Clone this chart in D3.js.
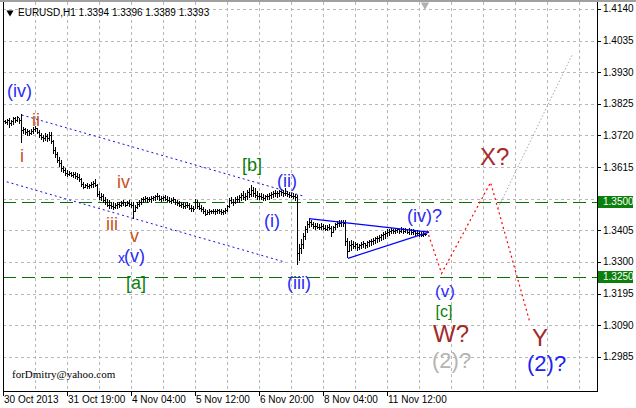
<!DOCTYPE html>
<html><head><meta charset="utf-8">
<script src="https://cdn.jsdelivr.net/npm/d3@7"></script>
<style>body{margin:0;background:#fff;} svg{display:block;}</style>
</head><body><svg id="c" width="636" height="408"></svg>
<script>
// ---------- DATA ----------
const symbolTitle = "EURUSD,H1";
const lastOHLC = ["1.3394", "1.3396", "1.3389", "1.3393"];
const barStart = 1;            // bar index of first bar (H1 bars)
const firstOpen = 1.3768;
const barHigh = [
1.3771,1.3775,1.3778,1.3772,1.3782,1.3780,1.3785,1.3778,1.3790,1.3748,
1.3745,1.3742,1.3738,1.3740,1.3748,1.3752,1.3745,1.3738,1.3728,1.3722,
1.3728,1.3725,1.3730,1.3732,1.3705,1.3680,1.3665,1.3650,1.3638,1.3620,
1.3612,1.3605,1.3602,1.3600,1.3598,1.3600,1.3595,1.3592,1.3578,1.3565,
1.3560,1.3562,1.3560,1.3565,1.3568,1.3575,1.3560,1.3535,1.3530,1.3525,
1.3515,1.3508,1.3505,1.3500,1.3498,1.3495,1.3498,1.3500,1.3502,1.3505,
1.3500,1.3502,1.3505,1.3500,1.3499,1.3490,1.3498,1.3505,1.3512,1.3515,
1.3518,1.3515,1.3516,1.3518,1.3520,1.3522,1.3528,1.3522,1.3518,1.3520,
1.3522,1.3518,1.3515,1.3512,1.3515,1.3510,1.3505,1.3502,1.3498,1.3500,
1.3495,1.3498,1.3495,1.3488,1.3485,1.3510,1.3505,1.3495,1.3490,1.3482,
1.3475,1.3472,1.3475,1.3474,1.3476,1.3475,1.3477,1.3476,1.3475,1.3474,
1.3478,1.3490,1.3512,1.3515,1.3510,1.3515,1.3520,1.3522,1.3530,1.3535,
1.3528,1.3540,1.3545,1.3555,1.3550,1.3545,1.3535,1.3530,1.3528,1.3525,
1.3522,1.3525,1.3528,1.3532,1.3535,1.3538,1.3535,1.3540,1.3542,1.3538,
1.3545,1.3535,1.3532,1.3530,1.3528,1.3525,1.3522,1.3360,1.3375,1.3395,
1.3420,1.3435,1.3446,1.3440,1.3432,1.3430,1.3428,1.3425,1.3428,1.3425,
1.3422,1.3424,1.3426,1.3418,1.3420,1.3430,1.3435,1.3438,1.3440,1.3438,
1.3440,1.3380,1.3370,1.3372,1.3368,1.3365,1.3362,1.3360,1.3365,1.3368,
1.3362,1.3370,1.3372,1.3375,1.3378,1.3382,1.3385,1.3388,1.3392,1.3398,
1.3402,1.3408,1.3410,1.3412,1.3410,1.3412,1.3414,1.3410,1.3415,1.3412,
1.3414,1.3410,1.3412,1.3408,1.3410,1.3406,1.3405,1.3402,1.3400,1.3398,
1.3396];
const barLow = [
1.3762,1.3758,1.3748,1.3755,1.3758,1.3765,1.3768,1.3762,1.3698,1.3728,
1.3725,1.3722,1.3720,1.3725,1.3728,1.3735,1.3728,1.3715,1.3708,1.3702,
1.3705,1.3700,1.3705,1.3695,1.3662,1.3650,1.3632,1.3620,1.3602,1.3598,
1.3588,1.3585,1.3588,1.3585,1.3582,1.3580,1.3575,1.3570,1.3552,1.3545,
1.3548,1.3545,1.3546,1.3548,1.3550,1.3552,1.3518,1.3510,1.3505,1.3498,
1.3492,1.3485,1.3480,1.3478,1.3476,1.3478,1.3480,1.3482,1.3485,1.3488,
1.3485,1.3488,1.3486,1.3482,1.3446,1.3468,1.3478,1.3485,1.3492,1.3498,
1.3502,1.3500,1.3502,1.3500,1.3505,1.3505,1.3508,1.3505,1.3502,1.3505,
1.3506,1.3502,1.3498,1.3496,1.3498,1.3492,1.3488,1.3485,1.3482,1.3480,
1.3478,1.3482,1.3475,1.3470,1.3468,1.3478,1.3480,1.3475,1.3470,1.3462,
1.3455,1.3458,1.3460,1.3462,1.3462,1.3460,1.3463,1.3462,1.3460,1.3460,
1.3462,1.3470,1.3482,1.3495,1.3490,1.3495,1.3498,1.3500,1.3505,1.3510,
1.3505,1.3510,1.3515,1.3520,1.3520,1.3515,1.3510,1.3508,1.3510,1.3505,
1.3506,1.3510,1.3510,1.3512,1.3515,1.3518,1.3515,1.3520,1.3522,1.3520,
1.3522,1.3518,1.3515,1.3515,1.3512,1.3505,1.3292,1.3305,1.3330,1.3345,
1.3375,1.3398,1.3415,1.3418,1.3412,1.3410,1.3412,1.3408,1.3410,1.3408,
1.3405,1.3406,1.3408,1.3385,1.3398,1.3410,1.3415,1.3418,1.3420,1.3420,
1.3355,1.3315,1.3335,1.3340,1.3345,1.3345,1.3340,1.3342,1.3345,1.3348,
1.3345,1.3350,1.3352,1.3355,1.3358,1.3362,1.3365,1.3368,1.3372,1.3375,
1.3380,1.3385,1.3390,1.3395,1.3395,1.3396,1.3398,1.3396,1.3398,1.3395,
1.3398,1.3395,1.3394,1.3392,1.3394,1.3390,1.3388,1.3386,1.3385,1.3386,
1.3389];
const barClose = [
1.3765,1.3770,1.3760,1.3768,1.3778,1.3772,1.3780,1.3770,1.3738,1.3740,
1.3732,1.3735,1.3728,1.3736,1.3742,1.3745,1.3732,1.3720,1.3715,1.3712,
1.3718,1.3710,1.3722,1.3700,1.3670,1.3660,1.3640,1.3630,1.3612,1.3605,
1.3595,1.3592,1.3595,1.3590,1.3592,1.3585,1.3582,1.3575,1.3558,1.3550,
1.3555,1.3552,1.3556,1.3560,1.3562,1.3555,1.3525,1.3515,1.3520,1.3505,
1.3498,1.3490,1.3488,1.3485,1.3482,1.3488,1.3492,1.3490,1.3495,1.3498,
1.3490,1.3496,1.3492,1.3488,1.3470,1.3482,1.3492,1.3500,1.3508,1.3510,
1.3512,1.3508,1.3510,1.3512,1.3515,1.3518,1.3520,1.3510,1.3512,1.3515,
1.3510,1.3506,1.3502,1.3505,1.3508,1.3498,1.3495,1.3490,1.3492,1.3485,
1.3488,1.3490,1.3480,1.3478,1.3475,1.3500,1.3485,1.3480,1.3476,1.3468,
1.3460,1.3466,1.3468,1.3470,1.3468,1.3470,1.3472,1.3468,1.3466,1.3468,
1.3474,1.3485,1.3505,1.3500,1.3498,1.3508,1.3510,1.3515,1.3522,1.3515,
1.3520,1.3532,1.3525,1.3540,1.3530,1.3522,1.3518,1.3520,1.3515,1.3512,
1.3518,1.3520,1.3522,1.3526,1.3530,1.3528,1.3530,1.3535,1.3532,1.3530,
1.3528,1.3525,1.3522,1.3520,1.3518,1.3515,1.3330,1.3345,1.3360,1.3385,
1.3410,1.3425,1.3432,1.3425,1.3418,1.3420,1.3416,1.3415,1.3420,1.3414,
1.3410,1.3415,1.3412,1.3398,1.3415,1.3425,1.3428,1.3430,1.3432,1.3428,
1.3370,1.3335,1.3355,1.3360,1.3352,1.3358,1.3350,1.3355,1.3358,1.3362,
1.3355,1.3365,1.3368,1.3370,1.3372,1.3378,1.3380,1.3383,1.3388,1.3392,
1.3396,1.3400,1.3402,1.3405,1.3402,1.3405,1.3408,1.3404,1.3408,1.3402,
1.3410,1.3400,1.3405,1.3398,1.3402,1.3396,1.3395,1.3392,1.3390,1.3394,
1.3393];

const priceTicks = [1.4140,1.4035,1.3930,1.3825,1.3720,1.3615,1.3510,1.3405,1.3300,1.3195,1.3090,1.2985];
const levelPrices = [1.3500, 1.3250];
const timeTickIndex = [0, 32, 64, 96, 128, 160, 192];
const timeTickLabels = ["30 Oct 2013","31 Oct 19:00","4 Nov 04:00","5 Nov 12:00","6 Nov 20:00","8 Nov 04:00","11 Nov 12:00"];

// channel lines (bar index, price)
const channelUpperIdx = [9.35, 151];
const channelUpperPrice = [1.3788, 1.3517];
const channelLowerIdx = [1.85, 140.15];
const channelLowerPrice = [1.3566, 1.3301];
// triangle
const triUpperIdx = [153, 213];
const triUpperPrice = [1.3444, 1.3399];
const triLowerIdx = [172.5, 213];
const triLowerPrice = [1.3312, 1.3399];
// forecast paths
const redPathIdx = [212, 219.3, 243.8, 263.5];
const redPathPrice = [1.3405, 1.3262, 1.3564, 1.3098];
const greyPathIdx = [247.5, 284.5];
const greyPathPrice = [1.3479, 1.3987];

// wave labels
const waveText  = ["(iv)","ii","i","iv","iii","v","x","(v)","[a]","[b]","(ii)","(i)","(iii)","(iv)?","(v)","[c]","W?","(2)?","X?","Y","(2)?"];
const waveIdx   = [2,14.5,8.5,57,51.5,63.5,57.5,60.5,61.5,119.5,137,130.5,142,202,216,216.3,215,214.5,238.5,264.5,262];
const wavePrice = [1.3848,1.3751,1.3632,1.3545,1.3406,1.3366,1.3296,1.3300,1.3210,1.3602,1.3549,1.3416,1.3210,1.3433,1.3182,1.3118,1.3034,1.2948,1.3622,1.3021,1.2938];
const waveKind  = ["blue","red","red","red","red","red","blueS","blue","green","green","blue","blue","blue","blue","blueM","greenM","brown","grey","brown","brown","blue2"];

// ---------- STYLE ----------
const kindColor = {blue:"#2b2bf5", blueS:"#2b2bf5", blueM:"#2b2bf5", blue2:"#1f1ff0", red:"#c9501e", green:"#0a7f0a", greenM:"#0a7f0a", brown:"#a52a2a", grey:"#b4b4b4"};
const kindSize = {blue:18, blueS:14, blueM:17, blue2:22, red:18, green:18, greenM:16, brown:24, grey:22};

const svg = d3.select("#c");
const W = 636, H = 408;
const plotL = 3, plotR = 597, plotT = 2, plotB = 391;

const x = d3.scaleLinear().domain([0, 297]).range([plotL, plotR]);
const y = d3.scaleLinear().domain([1.28715, 1.41630]).range([plotB, plotT]);

svg.append("rect").attr("width", W).attr("height", H).attr("fill", "#fff");
// top strip
svg.append("rect").attr("x",0).attr("y",0).attr("width",W).attr("height",2).attr("fill","#a0a0a0");

// grid
const grid = svg.append("g").attr("stroke","#b8b8b8").attr("stroke-width",1).attr("stroke-dasharray","3,3").attr("shape-rendering","crispEdges");
const vIdx = d3.range(16, 297, 16);
grid.selectAll("line.v").data(vIdx).join("line")
  .attr("x1", d => Math.round(x(d))+0.5).attr("x2", d => Math.round(x(d))+0.5)
  .attr("y1", plotT).attr("y2", plotB);
grid.selectAll("line.h").data(priceTicks).join("line")
  .attr("x1", plotL).attr("x2", plotR)
  .attr("y1", d => Math.round(y(d))+0.5).attr("y2", d => Math.round(y(d))+0.5);

// level lines
svg.append("g").selectAll("line").data(levelPrices).join("line")
  .attr("x1", plotL).attr("x2", plotR)
  .attr("y1", d => Math.round(y(d))+0.5).attr("y2", d => Math.round(y(d))+0.5)
  .attr("stroke","#0a700a").attr("stroke-width",1).attr("stroke-dasharray","13,6").attr("shape-rendering","crispEdges");

// channel lines
function seg(idxs, prices, color, dash, w) {
  const pts = idxs.map((d,k)=>[x(d), y(prices[k])]);
  svg.append("path").attr("d", d3.line()(pts)).attr("fill","none")
    .attr("stroke", color).attr("stroke-width", w||1).attr("stroke-dasharray", dash||null);
}
seg(channelUpperIdx, channelUpperPrice, "#1010e0", "2,3");
seg(channelLowerIdx, channelLowerPrice, "#1010e0", "2,3");
seg(greyPathIdx, greyPathPrice, "#a8a8a8", "1.5,2");
seg(redPathIdx, redPathPrice, "#ff0000", "2,3", 1.2);

// bars (OHLC: high-low stem, open tick left, close tick right)
const bars = barHigh.map((h,k)=>({i: barStart+k, h, l: barLow[k], c: barClose[k], o: k===0 ? firstOpen : barClose[k-1]}));
const bg = svg.append("g").attr("stroke","#000").attr("stroke-width",1).attr("shape-rendering","crispEdges");
bg.selectAll("line.hl").data(bars).join("line")
  .attr("x1", d=>Math.round(x(d.i))+0.5).attr("x2", d=>Math.round(x(d.i))+0.5)
  .attr("y1", d=>Math.round(y(d.h))).attr("y2", d=>Math.round(y(d.l))+1);
bg.selectAll("line.op").data(bars).join("line")
  .attr("x1", d=>Math.round(x(d.i))-1).attr("x2", d=>Math.round(x(d.i)))
  .attr("y1", d=>Math.round(y(d.o))+0.5).attr("y2", d=>Math.round(y(d.o))+0.5);
bg.selectAll("line.cl").data(bars).join("line")
  .attr("x1", d=>Math.round(x(d.i))+1).attr("x2", d=>Math.round(x(d.i))+2)
  .attr("y1", d=>Math.round(y(d.c))+0.5).attr("y2", d=>Math.round(y(d.c))+0.5);

// triangle
seg(triUpperIdx, triUpperPrice, "#0000ff", null, 1.2);
seg(triLowerIdx, triLowerPrice, "#0000ff", null, 1.2);

// wave labels
svg.append("g").selectAll("text").data(waveText).join("text")
  .attr("x", (d,k)=>x(waveIdx[k])).attr("y", (d,k)=>y(wavePrice[k]))
  .attr("font-family","'Liberation Sans', Arial, sans-serif")
  .attr("font-size", (d,k)=>kindSize[waveKind[k]])
  .attr("fill", (d,k)=>kindColor[waveKind[k]])
  .text(d=>d);

// frame
const fr = svg.append("g").attr("stroke","#000").attr("stroke-width",1).attr("shape-rendering","crispEdges");
fr.append("line").attr("x1",plotL+0.5).attr("x2",plotL+0.5).attr("y1",plotT).attr("y2",plotB+1);
fr.append("line").attr("x1",plotL).attr("x2",plotR+1).attr("y1",plotB+0.5).attr("y2",plotB+0.5);
fr.append("line").attr("x1",plotR+0.5).attr("x2",plotR+0.5).attr("y1",plotT).attr("y2",plotB+1);

// price axis (ticks hidden under a level box are left out)
const axisTicks = priceTicks.filter(t => !levelPrices.some(l => Math.abs(y(l) - y(t)) < 8));
const ax = svg.append("g").attr("font-family","'Liberation Sans', Arial, sans-serif").attr("font-size",10);
ax.selectAll("line").data(priceTicks).join("line")
  .attr("x1",plotR+1).attr("x2",plotR+4)
  .attr("y1",d=>Math.round(y(d))+0.5).attr("y2",d=>Math.round(y(d))+0.5)
  .attr("stroke","#000").attr("shape-rendering","crispEdges");
ax.selectAll("text").data(axisTicks).join("text")
  .attr("x",plotR+6).attr("y",d=>y(d)+3.5).attr("fill","#000")
  .text(d=>d.toFixed(4));
const lv = svg.append("g").attr("font-family","'Liberation Sans', Arial, sans-serif").attr("font-size",10);
lv.selectAll("rect").data(levelPrices).join("rect")
  .attr("x",plotR+1).attr("y",d=>Math.round(y(d))-6).attr("width",35).attr("height",12).attr("fill","#0a800a");
lv.selectAll("text").data(levelPrices).join("text")
  .attr("x",plotR+6).attr("y",d=>y(d)+3.5).attr("fill","#fff").text(d=>d.toFixed(4));

// time axis
const tx = svg.append("g").attr("font-family","'Liberation Sans', Arial, sans-serif").attr("font-size",10);
tx.selectAll("line").data(timeTickIndex).join("line")
  .attr("x1",d=>Math.round(x(d))+0.5).attr("x2",d=>Math.round(x(d))+0.5)
  .attr("y1",plotB+1).attr("y2",plotB+5).attr("stroke","#000").attr("shape-rendering","crispEdges");
tx.selectAll("text").data(timeTickLabels).join("text")
  .attr("x",(d,k)=>x(timeTickIndex[k])+1).attr("y",plotB+12).attr("fill","#000").text(d=>d);

// header
svg.append("path").attr("d", d3.symbol().type(d3.symbolTriangle).size(22)()).attr("transform","translate(10,12.5) rotate(180)").attr("fill","#000");
svg.append("text").attr("x",18).attr("y",16).attr("font-family","'Liberation Sans', Arial, sans-serif").attr("font-size",10)
  .attr("fill","#000").text(symbolTitle + "  " + lastOHLC.join(" "));
// shift marker
svg.append("path").attr("d", d3.symbol().type(d3.symbolTriangle).size(30)()).attr("transform",`translate(${x(211)},5) rotate(180)`).attr("fill","#b0b0b0");

// author note
svg.append("text").attr("x",12).attr("y",378).attr("font-family","'Liberation Serif', 'Times New Roman', serif").attr("font-size",11)
  .attr("fill","#000").text("forDmitry@yahoo.com");
</script></body></html>
